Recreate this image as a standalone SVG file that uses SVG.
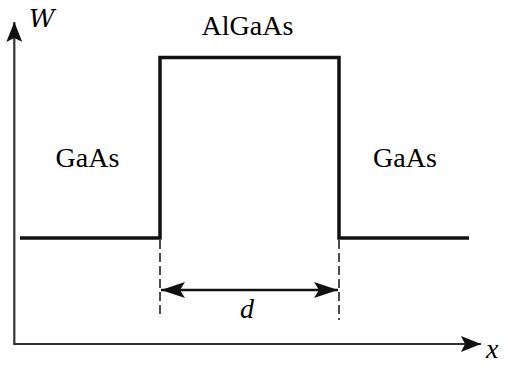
<svg xmlns="http://www.w3.org/2000/svg" width="505" height="367" viewBox="0 0 505 367">
<style>
.axis{stroke:#333;stroke-width:2.2;fill:none;}
.well{stroke:#111;stroke-width:3.5;fill:none;stroke-linejoin:miter;}
.dash{stroke:#111;stroke-width:1.5;stroke-dasharray:9,4;fill:none;}
.dim{stroke:#111;stroke-width:2.5;fill:none;}
</style>
<defs>
<marker id="dh" viewBox="0 0 24 16" refX="24" refY="8" markerWidth="24" markerHeight="16" orient="auto-start-reverse" markerUnits="userSpaceOnUse">
<path d="M0,0 L24,8 L0,16 L5,8 Z" fill="#111"/>
</marker>
<marker id="axh" viewBox="0 0 20 16" refX="20" refY="8" markerWidth="20" markerHeight="16" orient="auto" markerUnits="userSpaceOnUse">
<path d="M0,0 L20,8 L0,16 L4,8 Z" fill="#111"/>
</marker>
</defs>
<g id="connectors">
<line class="axis" x1="14.3" y1="344" x2="14.3" y2="22" marker-end="url(#axh)"/>
<line class="axis" x1="13.2" y1="344" x2="481" y2="344" marker-end="url(#axh)"/>
<polyline class="well" points="20,238 160,238 160,57.5 339,57.5 339,238 469,238"/>
<line class="dash" x1="160" y1="240" x2="160" y2="318"/>
<line class="dash" x1="339" y1="240" x2="339" y2="320"/>
<line class="dim" x1="161" y1="290" x2="338" y2="290" marker-start="url(#dh)" marker-end="url(#dh)"/>
</g>
<g id="label-W"><text font-family="DejaVu Serif" font-style="italic" font-size="25" x="29" y="27">W</text></g>
<g id="label-x"><text font-family="serif" font-style="italic" font-size="28" x="486" y="358">x</text></g>
<g id="label-AlGaAs"><text font-family="serif" font-size="28" x="247.5" y="35" text-anchor="middle">AlGaAs</text></g>
<g id="label-GaAs-left"><text font-family="serif" font-size="28" x="87.5" y="167" text-anchor="middle">GaAs</text></g>
<g id="label-GaAs-right"><text font-family="serif" font-size="28" x="405" y="167" text-anchor="middle">GaAs</text></g>
<g id="label-d"><text font-family="serif" font-style="italic" font-size="28" x="247" y="318" text-anchor="middle">d</text></g>
</svg>
